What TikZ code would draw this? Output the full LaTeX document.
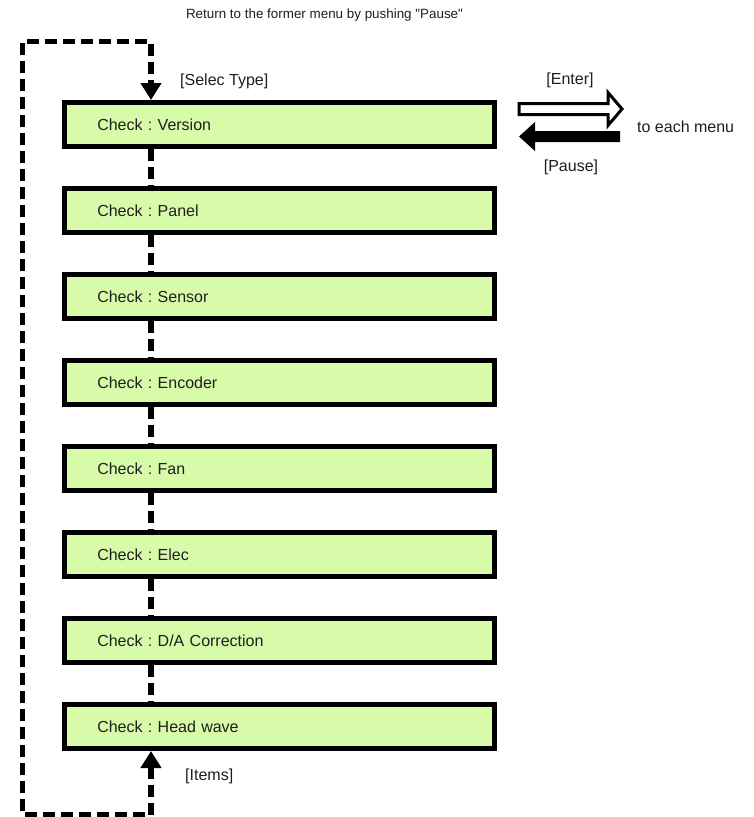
\documentclass[tikz,border=0pt]{standalone}
\usepackage{fontspec}
\setmainfont{Liberation Sans}
\usepackage{xcolor}
\usetikzlibrary{positioning, arrows.meta, calc}
\definecolor{lime}{HTML}{D8FBAA}
\definecolor{ink}{HTML}{1E1E1E}
\frenchspacing

\begin{document}
\begin{tikzpicture}[x=1pt,y=-1pt,node distance=37pt]
  \tikzset{menu/.style={draw=black,fill=lime,line width=5pt,minimum width=430pt,minimum height=44pt,text width=364.5pt,inner xsep=32.75pt,align=left,text=ink,font=\fontsize{16}{19}\selectfont},
    lbl/.style={text=ink,inner sep=0pt,font=\fontsize{16}{19}\selectfont},
    loop/.style={line width=5.5pt,dash pattern=on 12pt off 6pt,draw=black}}
  \useasboundingbox (0,0) rectangle (754,817);
  \node[lbl,font=\fontsize{13.4}{16}\selectfont] (ttl) at (324.5,15) {Return to the former menu by pushing \textquotedbl Pause\textquotedbl};
  % the check menus, one under the other
  \node[menu] (m1) at (279.5,124.5) {Check : Version};
  \foreach \t [count=\i from 2, evaluate=\i as \j using int(\i-1)] in {Panel,Sensor,Encoder,Fan,Elec,D/A Correction,Head wave}
    \node[menu,below=of m\j] (m\i) {Check : \t};
  \coordinate (spine) at (151,0);
  \coordinate (corner) at (22.7,41.7);
  \foreach \i [evaluate=\i as \j using int(\i+1)] in {1,...,7}
    \draw[loop] (m\i.south -| spine) -- (m\j.north -| spine);
  % back to the top from the last item
  \draw[loop,{Triangle[width=20pt,length=17pt]}-{Triangle[width=20pt,length=17pt]}] (m8.south -| spine) -- ++(0,64) -| (corner) -| (m1.north -| spine);
  \node[lbl,anchor=west] (sel) at (180,81) {[Selec Type]};
  \node[lbl,anchor=west] (items) at (185,776) {[Items]};
  % enter / pause arrows
  \draw[line width=3pt,fill=white] (519,103.5) -- (608,103.5) -- (608,92.5) -- (622,109) -- (608,125.5) -- (608,114.5) -- (519,114.5) -- cycle;
  \fill[black] (620,131) -- (535,131) -- (535,122) -- (519,136.5) -- (535,151) -- (535,142) -- (620,142) -- cycle;
  \node[lbl] (enter) at (570,80) {[Enter]};
  \node[lbl] (pause) at (571,167) {[Pause]};
  \node[lbl,anchor=west] (each) at (637,127) {to each menu};
\end{tikzpicture}
\end{document}
